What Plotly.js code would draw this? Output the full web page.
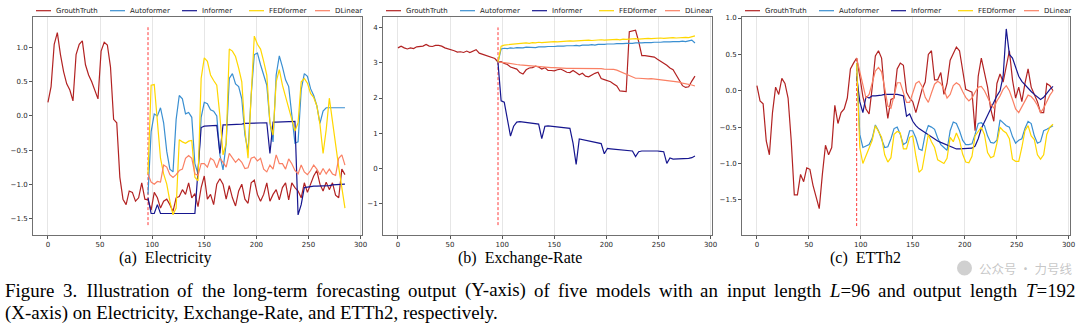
<!DOCTYPE html>
<html><head><meta charset="utf-8">
<script src="https://cdn.plot.ly/plotly-3.0.1.min.js"></script>
<style>html,body{margin:0;padding:0;background:#fff}#chart{width:1080px;height:326px}</style>
</head><body><div id="chart"></div>
<script>
// ---------- data ----------
const seriesNames = ['GrouthTruth', 'Autoformer', 'Informer', 'FEDformer', 'DLinear'];
const subCaptions = ['(a)\u2002Electricity', '(b)\u2002Exchange-Rate', '(c)\u2002ETTh2'];
const captionLine1 = 'Figure 3.\u2002Illustration of the long-term forecasting output (Y-axis) of five models with an input length <i>L</i>=96 and output length <i>T</i>=192';
const captionLine2 = '(X-axis) on Electricity, Exchange-Rate, and ETTh2, respectively.';
const watermark = '公众号 · 力号线';
const xTicks = [0, 50, 100, 150, 200, 250, 300];
const step = 3;          // time step between stored samples
const splitX = 96;       // input length L (forecast starts here)

// Electricity (a)
const elecGT = [0.2, 0.43, 1.05, 1.22, 0.9, 0.65, 0.47, 0.38, 0.22, 0.9, 1.05, 1.1, 0.75, 0.6, 0.5, 0.38,
  0.25, 0.95, 1.08, 1.04, 0.72, -0.05, -0.1, -0.9, -1.22, -1.3, -1.1, -1.12, -1.25, -1.2, -0.98, -1.22,
  -1.23, -1.38, -1.12, -1.2, -1.35, -1.25, -1.22, -1.3, -1.4, -1.2, -1.18, -1.08, -1.15, -0.98, -1.2, -1.14,
  -1.33, -1.05, -0.88, -1.22, -1.15, -1.3, -1.0, -0.92, -1.0, -1.22, -1.02, -1.2, -1.32, -1.1, -1.0, -1.22,
  -1.28, -0.98, -0.94, -1.15, -1.25, -1.15, -0.98, -1.25, -1.15, -1.08, -1.23, -1.05, -0.98, -1.23, -0.98, -1.05,
  -1.1, -1.2, -0.98, -1.12, -1.0, -0.88, -0.8, -1.0, -1.1, -0.97, -1.08, -0.98, -1.16, -1.2, -0.78, -0.86];
const elecAuto = [-1.15, -0.23, 0.03, 0.0, 0.12, -0.1, -0.52, -0.78, -0.82, -0.05, 0.3, 0.25, 0.03, 0.05, -0.02, -0.7,
  -0.85, -0.02, 0.2, 0.18, 0.09, 0.07, 0.0, -0.57, -0.79, -0.4, 0.55, 0.62, 0.47, 0.43, 0.25, -0.28,
  -0.52, 0.3, 0.9, 0.92, 0.75, 0.6, 0.45, -0.1, -0.38, 0.6, 0.88, 0.72, 0.53, 0.43, 0.05, -0.4,
  -0.38, 0.38, 0.62, 0.58, 0.4, 0.3, 0.15, -0.11, 0.07, 0.12, 0.12, 0.12, 0.12, 0.12, 0.12, 0.12];
const elecInformer = [-1.2, -1.43, -1.43, -1.3, -1.43, -1.43, -1.43, -1.43, -1.43, -1.43, -1.43, -1.43, -1.43, -1.43, -1.43, -1.43,
  -0.8, -0.17, -0.15, -0.15, -0.15, -0.14, -0.14, -0.55, -0.13, -0.13, -0.13, -0.12, -0.12, -0.12, -0.12, -0.11,
  -0.11, -0.11, -0.1, -0.1, -0.1, -0.1, -0.1, -0.55, -0.09, -0.09, -0.09, -0.09, -0.08, -0.08, -0.08, -0.08,
  -1.45, -1.3, -1.05, -1.04, -1.04, -1.03, -1.03, -1.03, -1.02, -1.02, -1.02, -1.01, -1.01, -1.01, -1.0, -1.0];
const elecFED = [-0.85, 0.45, 0.46, -0.1, -0.62, -0.85, -1.0, -1.25, -1.45, -1.35, -0.35, -0.38, -0.4, -0.37, -0.36, -0.9,
  -0.95, 0.55, 0.85, 0.8, 0.6, 0.52, 0.45, 0.0, -0.57, -0.4, 0.98, 0.95, 0.87, 0.7, 0.5, -0.2,
  -0.62, 0.3, 1.17, 1.05, 0.98, 0.8, 0.6, -0.1, -0.28, 0.5, 0.68, 0.45, 0.28, 0.1, -0.08, -0.22,
  -0.1, 0.5, 0.55, 0.48, 0.33, 0.27, 0.15, -0.12, -0.55, -0.2, 0.26, -0.1, -0.45, -0.75, -1.05, -1.35];
const elecDLinear = [-0.85, -0.97, -1.0, -0.96, -0.97, -0.72, -0.75, -0.86, -0.9, -0.86, -0.8, -0.78, -0.62, -0.58, -0.62, -0.85,
  -0.87, -0.7, -0.7, -0.75, -0.62, -0.65, -0.76, -0.62, -0.68, -0.75, -0.55, -0.62, -0.68, -0.63, -0.68, -0.77,
  -0.76, -0.62, -0.6, -0.66, -0.62, -0.78, -0.82, -0.72, -0.78, -0.57, -0.7, -0.7, -0.78, -0.63, -0.7, -0.8,
  -0.85, -0.72, -0.82, -0.86, -0.8, -0.72, -0.78, -0.86, -0.77, -0.85, -0.78, -0.85, -0.87, -0.62, -0.57, -0.72];
const elecSplitY = [-1.6, 1.3];

// Exchange-Rate (b)
const exGT = [3.42, 3.47, 3.42, 3.39, 3.42, 3.4, 3.45, 3.46, 3.47, 3.52, 3.47, 3.46, 3.49, 3.49, 3.47, 3.42,
  3.4, 3.37, 3.34, 3.3, 3.31, 3.29, 3.33, 3.29, 3.32, 3.37, 3.27, 3.24, 3.22, 3.19, 3.15, 3.12,
  3.02, 3.03, 2.98, 2.95, 2.88, 2.85, 2.82, 2.72, 2.68, 2.8, 2.85, 2.86, 2.9, 2.88, 2.82, 2.86,
  2.78, 2.78, 2.77, 2.8, 2.82, 2.78, 2.73, 2.72, 2.78, 2.72, 2.66, 2.7, 2.62, 2.6, 2.66, 2.7,
  2.73, 2.55, 2.52, 2.5, 2.46, 2.4, 2.34, 2.2, 2.2, 2.18, 3.88, 3.9, 3.92, 3.6, 3.2, 3.2,
  3.18, 3.18, 3.16, 3.1, 3.05, 2.98, 2.93, 2.85, 2.8, 2.65, 2.5, 2.35, 2.3, 2.32, 2.48, 2.62];
const exAuto = [3.0, 3.39, 3.41, 3.4, 3.42, 3.41, 3.43, 3.42, 3.42, 3.44, 3.43, 3.44, 3.43, 3.45, 3.44, 3.45,
  3.46, 3.45, 3.46, 3.47, 3.46, 3.47, 3.48, 3.47, 3.48, 3.49, 3.48, 3.5, 3.49, 3.5, 3.51, 3.5,
  3.52, 3.51, 3.52, 3.53, 3.52, 3.53, 3.54, 3.53, 3.54, 3.55, 3.54, 3.55, 3.56, 3.55, 3.56, 3.57,
  3.56, 3.57, 3.58, 3.57, 3.58, 3.59, 3.58, 3.59, 3.6, 3.59, 3.6, 3.61, 3.6, 3.62, 3.64, 3.56];
const exInformer = [3.0, 1.92, 1.88, 1.45, 0.92, 1.2, 1.32, 1.33, 1.32, 1.31, 1.3, 1.29, 1.28, 1.26, 0.85, 1.2,
  1.21, 1.2, 1.19, 1.19, 1.18, 1.17, 1.16, 1.14, 0.72, 0.12, 0.84, 0.82, 0.8, 0.78, 0.77, 0.76,
  0.74, 0.71, 0.42, 0.57, 0.56, 0.55, 0.55, 0.53, 0.52, 0.52, 0.51, 0.5, 0.34, 0.48, 0.5, 0.5,
  0.51, 0.52, 0.5, 0.5, 0.49, 0.48, 0.15, 0.3, 0.27, 0.27, 0.27, 0.28, 0.28, 0.29, 0.31, 0.36];
const exFED = [3.02, 3.47, 3.5, 3.51, 3.52, 3.52, 3.54, 3.53, 3.55, 3.56, 3.55, 3.57, 3.56, 3.58, 3.57, 3.58,
  3.59, 3.58, 3.6, 3.59, 3.6, 3.61, 3.6, 3.62, 3.61, 3.62, 3.63, 3.62, 3.63, 3.64, 3.63, 3.64,
  3.63, 3.65, 3.64, 3.65, 3.66, 3.65, 3.66, 3.65, 3.67, 3.66, 3.67, 3.66, 3.68, 3.67, 3.68, 3.67,
  3.69, 3.68, 3.69, 3.68, 3.7, 3.69, 3.7, 3.69, 3.71, 3.7, 3.71, 3.7, 3.72, 3.71, 3.73, 3.76];
const exDLinear = [3.02, 3.02, 3.0, 2.99, 2.97, 2.96, 2.95, 2.94, 2.93, 2.92, 2.91, 2.9, 2.89, 2.88, 2.88, 2.87,
  2.87, 2.86, 2.86, 2.85, 2.85, 2.84, 2.84, 2.84, 2.84, 2.85, 2.85, 2.84, 2.84, 2.85, 2.84, 2.84,
  2.83, 2.83, 2.82, 2.82, 2.82, 2.81, 2.79, 2.75, 2.72, 2.68, 2.63, 2.59, 2.56, 2.56, 2.55, 2.55,
  2.54, 2.55, 2.54, 2.53, 2.52, 2.51, 2.5, 2.49, 2.48, 2.47, 2.45, 2.42, 2.41, 2.39, 2.37, 2.34];
const exSplitY = [-1.6, 4.0];

// ETTh2 (c)
const ettGT = [0.07, -0.14, -0.18, -0.69, -0.88, -0.3, 0.05, -0.05, 0.17, 0.1, -0.1, -0.68, -1.43, -1.43, -1.15, -1.25,
  -1.06, -1.08, -1.3, -1.45, -1.62, -1.15, -0.75, -0.88, -0.78, -0.2, -0.45, -0.3, -0.25, -0.1, 0.3, 0.38,
  0.45, 0.2, -0.08, -0.25, -0.32, 0.05, 0.48, 0.55, 0.45, -0.05, -0.38, -0.12, -0.1, 0.3, 0.38, 0.35,
  -0.02, -0.1, -0.15, -0.3, -0.15, 0.02, 0.12, 0.5, 0.55, 0.15, 0.15, 0.25, -0.05, 0.1, 0.42, 0.52,
  0.6, 0.55, 0.3, 0.02, 0.0, -0.02, -0.55, 0.2, 0.45, 0.25, 0.05, -0.25, -0.42, 0.1, 0.23, 0.12,
  0.35, 0.55, 0.15, -0.1, 0.05, -0.15, 0.1, 0.3, 0.05, -0.05, -0.15, -0.3, -0.3, 0.1, 0.07, 0.0];
const ettAuto = [0.38, -0.6, -0.78, -0.76, -0.74, -0.65, -0.47, -0.55, -0.67, -0.78, -0.77, -0.66, -0.52, -0.5, -0.6, -0.74,
  -0.71, -0.55, -0.55, -0.65, -0.8, -0.82, -0.6, -0.48, -0.5, -0.53, -0.65, -0.74, -0.78, -0.82, -0.55, -0.43,
  -0.45, -0.55, -0.68, -0.74, -0.74, -0.73, -0.6, -0.45, -0.44, -0.48, -0.62, -0.71, -0.72, -0.68, -0.4, -0.44,
  -0.48, -0.5, -0.63, -0.72, -0.68, -0.66, -0.52, -0.42, -0.45, -0.62, -0.72, -0.7, -0.55, -0.53, -0.51, -0.48];
const ettInformer = [0.2, -0.15, -0.3, -0.08, -0.1, -0.07, -0.07, -0.07, -0.06, -0.05, -0.05, -0.04, -0.04, -0.05, -0.06, -0.07,
  -0.35, -0.32, -0.42, -0.48, -0.52, -0.55, -0.57, -0.6, -0.63, -0.66, -0.69, -0.71, -0.73, -0.74, -0.76, -0.78,
  -0.8, -0.8, -0.8, -0.8, -0.8, -0.79, -0.76, -0.66, -0.52, -0.43, -0.33, -0.24, -0.16, -0.07, 0.0, 0.2,
  0.85, 0.5, 0.45, 0.32, 0.2, 0.13, 0.08, 0.03, -0.01, -0.05, -0.09, -0.12, -0.09, -0.03, 0.02, 0.06];
const ettFED = [0.38, -0.78, -1.0, -0.9, -0.8, -0.68, -0.48, -0.56, -0.64, -0.88, -0.98, -0.92, -0.6, -0.56, -0.58, -0.8,
  -0.8, -0.64, -0.62, -0.9, -1.12, -1.08, -0.85, -0.6, -0.7, -0.78, -0.95, -0.98, -1.0, -0.93, -0.64, -0.7,
  -0.58, -0.68, -0.87, -0.98, -0.99, -0.9, -0.62, -0.56, -0.5, -0.6, -0.85, -0.92, -0.9, -0.72, -0.5, -0.55,
  -0.58, -0.66, -0.94, -0.97, -0.97, -0.78, -0.55, -0.48, -0.62, -0.67, -0.88, -0.94, -0.88, -0.6, -0.5, -0.46];
const ettDLinear = [0.45, 0.26, 0.08, -0.1, -0.05, 0.13, 0.27, 0.32, 0.26, 0.04, -0.21, -0.24, -0.05, 0.11, 0.11, -0.02,
  -0.16, -0.16, -0.02, 0.1, 0.13, 0.06, -0.09, -0.16, -0.03, 0.09, 0.13, 0.1, 0.02, -0.1, -0.05, 0.07,
  0.11, 0.08, -0.01, -0.09, -0.14, -0.1, -0.02, 0.05, 0.06, 0.0, -0.09, -0.18, -0.24, -0.14, -0.07, 0.02,
  0.07, 0.0, -0.12, -0.25, -0.3, -0.22, -0.13, -0.06, -0.08, -0.13, -0.2, -0.3, -0.24, -0.14, -0.06, 0.0];
const ettSplitY = [-1.86, 0.45];

// ---------- styling / layout ----------
const W = 1080, H = 326;
const colors = ['#b22222', '#3a8fd1', '#16168f', '#ffd700', '#fa8064'];
const frameTop = 17, frameBottom = 235;
const panels = [
  {gt: elecGT, fc: [elecAuto, elecInformer, elecFED, elecDLinear], split: elecSplitY, yr: [-1.745, 1.45], dtick: 0.5, fmt: '.1f', px: [33, 362], cap: 165},
  {gt: exGT, fc: [exAuto, exInformer, exFED, exDLinear], split: exSplitY, yr: [-1.88, 4.295], dtick: 1, fmt: 'd', px: [383, 712], cap: 520},
  {gt: ettGT, fc: [ettAuto, ettInformer, ettFED, ettDLinear], split: ettSplitY, yr: [-1.983, 1.014], dtick: 0.5, fmt: '.1f', px: [742, 1070], cap: 865}
];
function xs(start, n) { const a = []; for (let i = 0; i < n; i++) a.push(start + i * step); return a; }

const traces = [];
const layout = {
  width: W, height: H, margin: {l: 0, r: 0, t: 0, b: 0},
  paper_bgcolor: '#fff', plot_bgcolor: '#fff', showlegend: false,
  shapes: [], annotations: []
};
const tickFont = {family: 'DejaVu Sans', size: 7, color: '#262626'};
const legOffsets = [3, 77, 149, 216, 282];

panels.forEach((p, k) => {
  const s = k === 0 ? '' : String(k + 1);
  const xa = 'x' + s, ya = 'y' + s;
  traces.push({x: [splitX, splitX], y: p.split, xaxis: xa, yaxis: ya, mode: 'lines',
    line: {color: '#ff3b3b', width: 1, dash: '3px,2px'}, hoverinfo: 'skip'});
  traces.push({x: xs(0, p.gt.length), y: p.gt, xaxis: xa, yaxis: ya, mode: 'lines', name: seriesNames[0],
    line: {color: colors[0], width: 1.2}});
  p.fc.forEach((arr, j) => {
    traces.push({x: xs(splitX, arr.length), y: arr, xaxis: xa, yaxis: ya, mode: 'lines', name: seriesNames[j + 1],
      line: {color: colors[j + 1], width: 1.2}});
  });
  layout['xaxis' + s] = {
    domain: [p.px[0] / W, p.px[1] / W], anchor: ya, range: [-14.35, 301.35],
    tickvals: xTicks, showgrid: true, gridcolor: '#e6e6e6', gridwidth: 1, zeroline: false,
    showline: true, mirror: true, linecolor: '#707070', linewidth: 1,
    ticks: 'outside', ticklen: 3, tickcolor: '#555', tickfont: tickFont
  };
  layout['yaxis' + s] = {
    domain: [1 - frameBottom / H, 1 - frameTop / H], anchor: xa, range: p.yr,
    dtick: p.dtick, tick0: 0, tickformat: p.fmt, showgrid: false, zeroline: false,
    showline: true, mirror: true, linecolor: '#707070', linewidth: 1,
    ticks: 'outside', ticklen: 3, tickcolor: '#555', tickfont: tickFont
  };
  seriesNames.forEach((nm, j) => {
    const x0 = p.px[0] + legOffsets[j];
    const yy = 1 - 10.7 / H;
    layout.shapes.push({type: 'line', xref: 'paper', yref: 'paper', x0: x0 / W, x1: (x0 + 15) / W, y0: yy, y1: yy,
      line: {color: colors[j], width: 1.2}});
    layout.annotations.push({xref: 'paper', yref: 'paper', x: (x0 + 18) / W, y: yy, xanchor: 'left', yanchor: 'middle',
      text: nm, showarrow: false, font: {family: 'DejaVu Sans', size: 7, color: '#222'}});
  });
  layout.annotations.push({xref: 'paper', yref: 'paper', x: p.cap / W, y: 1 - 258 / H, xanchor: 'center', yanchor: 'middle',
    text: subCaptions[k], showarrow: false, font: {family: 'Liberation Serif', size: 16, color: '#000'}});
});

// figure caption: line 1 is justified across the full width, line 2 is left-aligned
const capSize = 18.9;
const ctx = document.createElement('canvas').getContext('2d');
function measure(html) {
  let w = 0;
  html.split(/(<i>.*?<\/i>)/).forEach(pt => {
    if (!pt) return;
    const it = pt.startsWith('<i>');
    ctx.font = (it ? 'italic ' : '') + capSize + 'px "Liberation Serif"';
    w += ctx.measureText(pt.replace(/<\/?i>/g, '')).width;
  });
  return w;
}
const words = captionLine1.split(' ');
const widths = words.map(measure);
const capLeft = 4, capRight = 1074;
const gap = (capRight - capLeft - widths.reduce((a, b) => a + b, 0)) / (words.length - 1);
let cx = capLeft;
words.forEach((wd, i) => {
  layout.annotations.push({xref: 'paper', yref: 'paper', x: cx / W, y: 1 - 290 / H, xanchor: 'left', yanchor: 'middle',
    text: wd, showarrow: false, borderpad: 0, font: {family: 'Liberation Serif', size: capSize, color: '#000'}});
  cx += widths[i] + gap;
});
layout.annotations.push({xref: 'paper', yref: 'paper', x: capLeft / W, y: 1 - 313 / H, xanchor: 'left', yanchor: 'middle',
  text: captionLine2, showarrow: false, borderpad: 0, font: {family: 'Liberation Serif', size: capSize, color: '#000'}});

// watermark
layout.annotations.push({xref: 'paper', yref: 'paper', x: 1074 / W, y: 1 - 268 / H, xanchor: 'right', yanchor: 'middle',
  text: watermark, showarrow: false, borderpad: 0, font: {family: 'Noto Sans CJK SC', size: 12.5, color: 'rgba(150,150,150,0.55)'}});
layout.shapes.push({type: 'circle', xref: 'paper', yref: 'paper', x0: 957 / W, x1: 972 / W, y0: 1 - 275.5 / H, y1: 1 - 260.5 / H,
  fillcolor: 'rgba(150,150,150,0.45)', line: {width: 0}});

Plotly.newPlot('chart', traces, layout, {staticPlot: true, displayModeBar: false});
</script>
</body></html>
